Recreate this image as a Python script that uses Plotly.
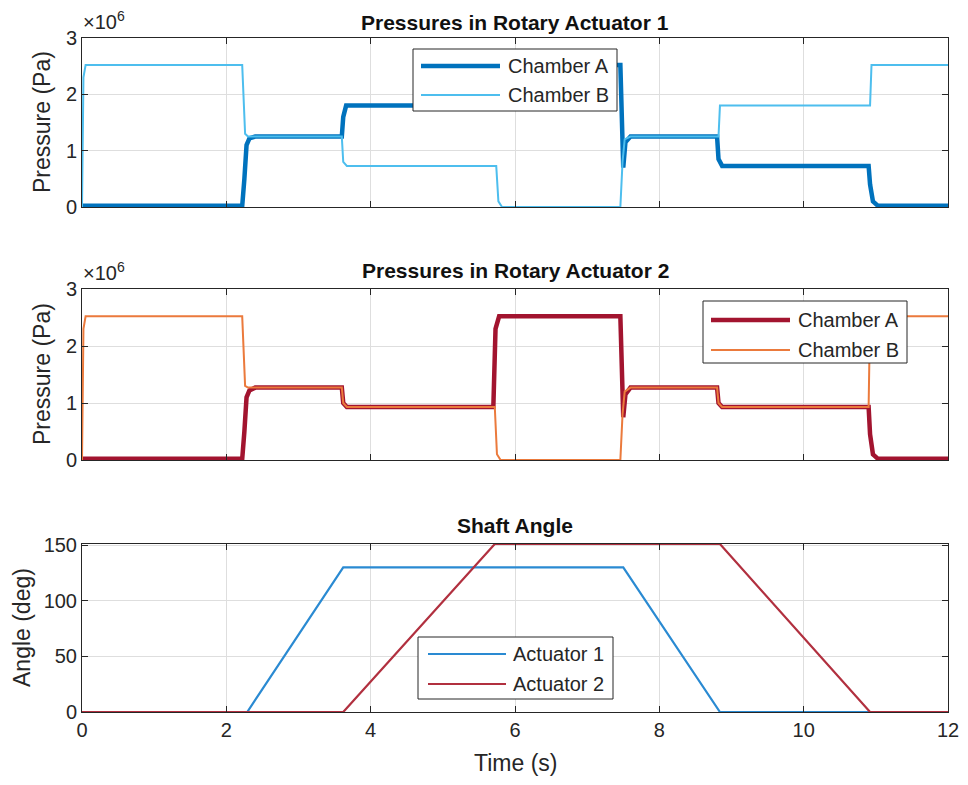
import plotly.graph_objects as go

# ---------------- data ----------------
# Rotary actuator 1 pressures (Pa)
t_a1 = [0, 2.22, 2.25, 2.28, 2.32, 2.40, 3.60, 3.62, 3.66, 5.72, 5.75, 5.80, 7.46, 7.48, 7.50, 7.53, 7.60,
        8.80, 8.82, 8.87, 10.90, 10.92, 10.96, 11.03, 12]
p_a1 = [0.02e6, 0.02e6, 0.5e6, 1.1e6, 1.22e6, 1.25e6, 1.25e6, 1.6e6, 1.8e6, 1.8e6, 2.3e6, 2.52e6, 2.52e6,
        1.2e6, 0.7e6, 1.15e6, 1.25e6, 1.25e6, 0.85e6, 0.73e6, 0.73e6, 0.4e6, 0.1e6, 0.02e6, 0.02e6]
t_b1 = [0, 0.02, 0.05, 2.22, 2.26, 2.30, 3.60, 3.62, 3.67, 5.74, 5.77, 5.82, 7.46, 7.49, 7.52, 7.60,
        8.82, 8.84, 10.92, 10.94, 12]
p_b1 = [0, 2.3e6, 2.52e6, 2.52e6, 1.3e6, 1.25e6, 1.25e6, 0.8e6, 0.73e6, 0.73e6, 0.1e6, 0.0, 0.0,
        0.8e6, 1.2e6, 1.25e6, 1.25e6, 1.8e6, 1.8e6, 2.52e6, 2.52e6]

# Rotary actuator 2 pressures (Pa)
t_a2 = [0, 2.22, 2.25, 2.28, 2.32, 2.40, 3.60, 3.62, 3.67, 5.70, 5.73, 5.78, 7.46, 7.48, 7.50, 7.53, 7.60,
        8.80, 8.82, 8.87, 10.90, 10.92, 10.96, 11.03, 12]
p_a2 = [0.02e6, 0.02e6, 0.5e6, 1.1e6, 1.22e6, 1.27e6, 1.27e6, 1.0e6, 0.93e6, 0.93e6, 2.3e6, 2.52e6, 2.52e6,
        1.3e6, 0.75e6, 1.15e6, 1.27e6, 1.27e6, 1.0e6, 0.93e6, 0.93e6, 0.45e6, 0.1e6, 0.02e6, 0.02e6]
t_b2 = [0, 0.02, 0.05, 2.22, 2.26, 2.30, 3.60, 3.62, 3.67, 5.72, 5.75, 5.80, 7.46, 7.49, 7.52, 7.60,
        8.80, 8.82, 8.87, 10.90, 10.92, 12]
p_b2 = [0, 2.3e6, 2.52e6, 2.52e6, 1.3e6, 1.27e6, 1.27e6, 1.0e6, 0.93e6, 0.93e6, 0.1e6, 0.0, 0.0,
        0.8e6, 1.2e6, 1.27e6, 1.27e6, 1.0e6, 0.93e6, 0.93e6, 2.52e6, 2.52e6]

# Shaft angles (deg)
t_ang1 = [0, 2.29, 3.62, 7.50, 8.84, 12]
ang1 = [0, 0, 130, 130, 0, 0]
t_ang2 = [0, 3.62, 5.72, 8.84, 10.92, 12]
ang2 = [0, 0, 151, 151, 0, 0]

x_ticks = [0, 2, 4, 6, 8, 10, 12]
p_ticks = [0, 1e6, 2e6, 3e6]
p_ticktext = ["0", "1", "2", "3"]
ang_ticks = [0, 50, 100, 150]

titles = ["Pressures in Rotary Actuator 1", "Pressures in Rotary Actuator 2", "Shaft Angle"]
legend1 = ["Chamber A", "Chamber B"]
legend2 = ["Chamber A", "Chamber B"]
legend3 = ["Actuator 1", "Actuator 2"]

# ---------------- styling ----------------
OFF = 8                      # page body margin of the html page
W, H = 968 - 2 * OFF, 785 - 2 * OFF
ML = 82 - OFF
MR = W - (948 - OFF)
PW = W - ML - MR
FONT = "Liberation Sans, Arial, Helvetica, sans-serif"
TXT = "#262626"
GRID = "#dedede"

C_A1 = "#0072BD"
C_B1 = "#4DBEEE"
C_A2 = "#A2142F"
C_B2 = "#EB7A3C"
C_ANG1 = "#2A8AD2"
C_ANG2 = "#B1303F"

F_TICK = 20
F_LAB = 23
F_TITLE = 21
F_LEG = 20


def xp(px):
    return (px - 82) / PW


def yp(py):
    return 1 - (py - OFF) / H


panels = [(38, 207), (289, 460), (544, 712)]

fig = go.Figure()

fig.add_trace(go.Scatter(x=t_a1, y=p_a1, mode="lines", line=dict(color=C_A1, width=4.5), xaxis="x", yaxis="y",
                         name=legend1[0], showlegend=False))
fig.add_trace(go.Scatter(x=t_b1, y=p_b1, mode="lines", line=dict(color=C_B1, width=2), xaxis="x", yaxis="y",
                         name=legend1[1], showlegend=False))
fig.add_trace(go.Scatter(x=t_a2, y=p_a2, mode="lines", line=dict(color=C_A2, width=4.5), xaxis="x2", yaxis="y2",
                         name=legend2[0], showlegend=False))
fig.add_trace(go.Scatter(x=t_b2, y=p_b2, mode="lines", line=dict(color=C_B2, width=2), xaxis="x2", yaxis="y2",
                         name=legend2[1], showlegend=False))
fig.add_trace(go.Scatter(x=t_ang1, y=ang1, mode="lines", line=dict(color=C_ANG1, width=2.2), xaxis="x3", yaxis="y3",
                         name=legend3[0], showlegend=False))
fig.add_trace(go.Scatter(x=t_ang2, y=ang2, mode="lines", line=dict(color=C_ANG2, width=2.2), xaxis="x3", yaxis="y3",
                         name=legend3[1], showlegend=False, cliponaxis=False))

axis_common = dict(showline=True, linecolor=TXT, linewidth=1, mirror="ticks", ticks="inside", ticklen=6,
                   tickcolor=TXT, tickwidth=1, showgrid=True, gridcolor=GRID, gridwidth=1, zeroline=False,
                   automargin=False, tickfont=dict(family=FONT, size=F_TICK, color=TXT))

layout = dict(width=W, height=H, autosize=False, margin=dict(l=ML, r=MR, t=0, b=0, pad=0, autoexpand=False),
              plot_bgcolor="white", paper_bgcolor="white", showlegend=False, font=dict(family=FONT, color=TXT))

for i, (top, bot) in enumerate(panels):
    sfx = "" if i == 0 else str(i + 1)
    layout["xaxis" + sfx] = dict(axis_common, domain=[0, 1], range=[0, 12], tickvals=x_ticks,
                                 showticklabels=(i == 2), anchor="y" + sfx)
    if i < 2:
        layout["yaxis" + sfx] = dict(axis_common, domain=[yp(bot), yp(top)], range=[0, 3e6], tickvals=p_ticks,
                                     ticktext=p_ticktext, anchor="x" + sfx)
    else:
        layout["yaxis" + sfx] = dict(axis_common, domain=[yp(bot), yp(top)], range=[0, 151], tickvals=ang_ticks,
                                     anchor="x" + sfx)

fig.update_layout(**layout)

annotations = []
title_y = [22, 270, 525]
for txt, ty in zip(titles, title_y):
    annotations.append(dict(text="<b>" + txt + "</b>", x=xp(515), y=yp(ty), xref="paper", yref="paper",
                            xanchor="center", yanchor="middle", showarrow=False, borderpad=0,
                            font=dict(family=FONT, size=F_TITLE, color="#111111")))
# exponent labels
for ty in [38, 289]:
    annotations.append(dict(text="×10<sup>6</sup>", x=xp(81), y=yp(ty - 3), xref="paper", yref="paper",
                            xanchor="left", yanchor="bottom", showarrow=False,
                            font=dict(family=FONT, size=F_TICK, color=TXT)))
# axis titles
annotations.append(dict(text="Pressure (Pa)", x=xp(42), y=yp(122), xref="paper", yref="paper", textangle=-90,
                        xanchor="center", yanchor="middle", showarrow=False,
                        font=dict(family=FONT, size=F_LAB, color=TXT)))
annotations.append(dict(text="Pressure (Pa)", x=xp(42), y=yp(374), xref="paper", yref="paper", textangle=-90,
                        xanchor="center", yanchor="middle", showarrow=False,
                        font=dict(family=FONT, size=F_LAB, color=TXT)))
annotations.append(dict(text="Angle (deg)", x=xp(22), y=yp(628), xref="paper", yref="paper", textangle=-90,
                        xanchor="center", yanchor="middle", showarrow=False,
                        font=dict(family=FONT, size=F_LAB, color=TXT)))
annotations.append(dict(text="Time (s)", x=xp(515), y=yp(763), xref="paper", yref="paper",
                        xanchor="center", yanchor="middle", showarrow=False,
                        font=dict(family=FONT, size=F_LAB, color=TXT)))

shapes = []


def add_legend(x0, y0, x1, y1, lx0, lx1, ly, labels, colors, widths, tx):
    shapes.append(dict(type="rect", xref="paper", yref="paper", x0=xp(x0), x1=xp(x1), y0=yp(y1), y1=yp(y0),
                       line=dict(color=TXT, width=1), fillcolor="white", layer="above"))
    for lab, c, w, yy in zip(labels, colors, widths, ly):
        shapes.append(dict(type="line", xref="paper", yref="paper", x0=xp(lx0), x1=xp(lx1), y0=yp(yy), y1=yp(yy),
                           line=dict(color=c, width=w), layer="above"))
        annotations.append(dict(text=lab, x=xp(tx), y=yp(yy), xref="paper", yref="paper", xanchor="left",
                                yanchor="middle", showarrow=False, font=dict(family=FONT, size=F_LEG, color=TXT)))


add_legend(413, 49, 617, 111, 421, 500, [66, 95], legend1, [C_A1, C_B1], [4.5, 2], 506)
add_legend(703, 301, 907, 363, 711, 790, [320, 350], legend2, [C_A2, C_B2], [4.5, 2], 796)
add_legend(418, 637, 613, 699, 428, 506, [654, 684], legend3, [C_ANG1, C_ANG2], [2.2, 2.2], 511)

fig.update_layout(annotations=annotations, shapes=shapes)

fig.write_html("out.html")
